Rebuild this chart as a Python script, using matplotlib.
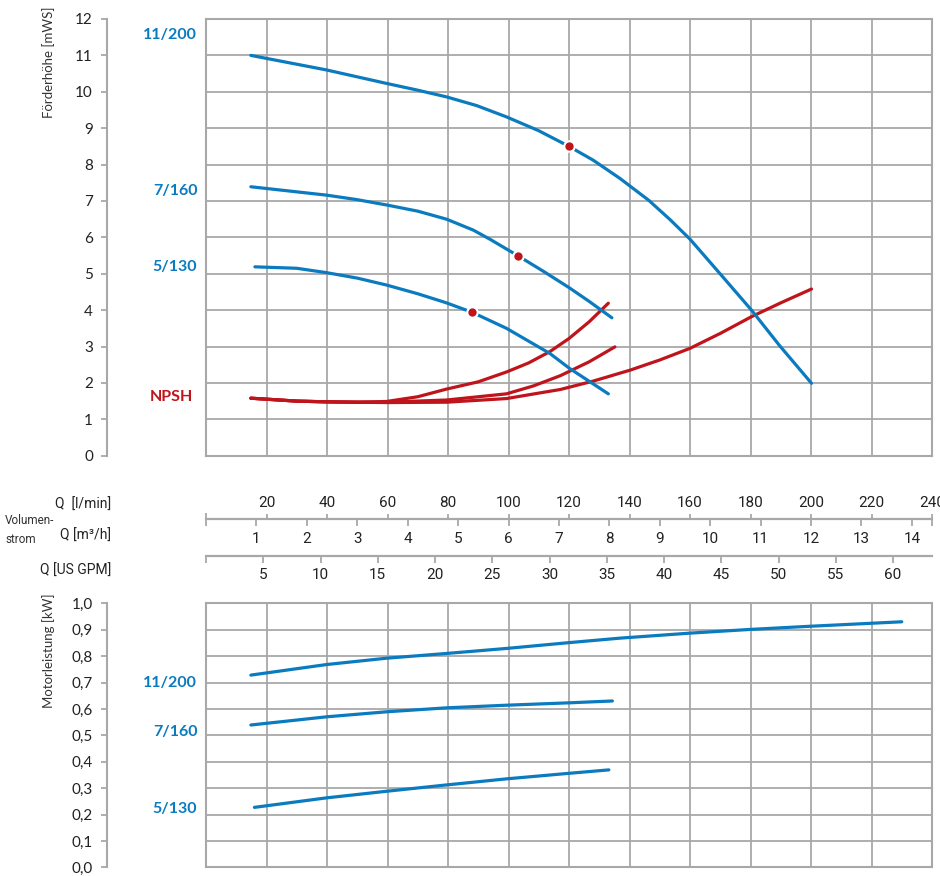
import numpy as np
import matplotlib
matplotlib.use("Agg")
import matplotlib.pyplot as plt

# Förderhöhe (head) curves, x in m³/h, y in mWS
q_200 = [0.89, 2.39, 3.58, 4.18, 4.77, 5.37, 5.96, 6.6, 7.2, 7.68, 8.21, 8.78, 9.21, 9.6, 10.19, 10.82, 11.38, 12.01]
h_200 = [11.0, 10.6, 10.23, 10.05, 9.86, 9.62, 9.31, 8.93, 8.5, 8.12, 7.62, 7.02, 6.48, 5.95, 5.01, 4.0, 3.02, 1.99]

q_160 = [0.89, 2.39, 2.98, 3.58, 4.2, 4.77, 5.30, 5.63, 5.96, 6.18, 6.7, 7.2, 7.6, 8.05]
h_160 = [7.39, 7.16, 7.04, 6.89, 6.72, 6.5, 6.2, 5.95, 5.68, 5.50, 5.06, 4.62, 4.24, 3.79]

q_130 = [0.97, 1.80, 2.39, 3.0, 3.58, 4.2, 4.77, 5.28, 5.96, 6.82, 7.21, 7.98]
h_130 = [5.19, 5.15, 5.03, 4.88, 4.69, 4.45, 4.20, 3.94, 3.5, 2.81, 2.40, 1.70]

# NPSH curves
q_npsh_130 = [0.89, 1.8, 2.39, 3.0, 3.58, 4.2, 4.77, 5.4, 5.96, 6.4, 6.82, 7.2, 7.6, 7.98]
n_npsh_130 = [1.58, 1.50, 1.48, 1.47, 1.49, 1.62, 1.83, 2.03, 2.30, 2.55, 2.86, 3.22, 3.68, 4.19]

q_npsh_160 = [0.89, 1.8, 2.39, 3.0, 3.58, 4.77, 5.96, 6.5, 7.03, 7.6, 8.11]
n_npsh_160 = [1.58, 1.50, 1.48, 1.47, 1.47, 1.53, 1.70, 1.92, 2.20, 2.58, 2.99]

q_npsh_200 = [0.89, 1.8, 2.39, 3.0, 3.58, 4.77, 5.96, 6.6, 7.03, 7.68, 8.41, 9.0, 9.6, 10.2, 10.82, 11.4, 12.01]
n_npsh_200 = [1.58, 1.50, 1.48, 1.47, 1.46, 1.47, 1.57, 1.72, 1.82, 2.05, 2.35, 2.63, 2.95, 3.36, 3.82, 4.2, 4.58]

# operating points (red dots)
dot_q = [7.2, 6.18, 5.28]
dot_h = [8.5, 5.50, 3.94]

# Motorleistung (power) curves, kW
p_q_200 = [0.89, 2.39, 3.58, 4.77, 5.96, 7.2, 8.21, 9.6, 10.79, 11.98, 13.8]
p_200 = [0.728, 0.768, 0.792, 0.81, 0.829, 0.851, 0.868, 0.887, 0.901, 0.913, 0.93]

p_q_160 = [0.89, 2.39, 3.58, 4.77, 5.96, 7.2, 8.06]
p_160 = [0.539, 0.570, 0.589, 0.604, 0.614, 0.623, 0.630]

p_q_130 = [0.96, 2.39, 3.58, 4.77, 5.96, 7.2, 7.99]
p_130 = [0.227, 0.263, 0.288, 0.312, 0.335, 0.356, 0.369]

# scales
head_ticks = list(range(0, 13))
power_ticks = [round(0.1 * i, 1) for i in range(11)]
power_labels = [f"{v:.1f}".replace(".", ",") for v in power_ticks]
lmin_ticks = [20, 40, 60, 80, 100, 120, 140, 160, 180, 200, 220, 240]
m3h_ticks = [1, 2, 3, 4, 5, 6, 7, 8, 9, 10, 11, 12, 13, 14]
gpm_ticks = [5, 10, 15, 20, 25, 30, 35, 40, 45, 50, 55, 60]

Q_MAX = 14.4  # m³/h  (= 240 l/min)
GPM_PER_M3H = 1 / 0.227124

blue = "#0b7bbf"
red = "#c0141c"
gray = "#a8a8a8"
txt = "#222222"

plt.rcParams["font.family"] = ["Lato", "DejaVu Sans"]
narrow_fam = ["Roboto", "DejaVu Sans"]

W, H = 940, 876
fig = plt.figure(figsize=(W / 100, H / 100), dpi=100)


def grid_axes(top_px, bottom_px, yticks, ylim):
    ax = fig.add_axes([206 / W, 1 - bottom_px / H, 726 / W, (bottom_px - top_px) / H])
    ax.set_xlim(0, Q_MAX)
    ax.set_ylim(*ylim)
    ax.set_xticks(np.arange(0, Q_MAX + 0.01, 1.2))
    ax.set_yticks(yticks)
    ax.grid(True, color=gray, linewidth=1.3)
    ax.tick_params(left=False, bottom=False, labelleft=False, labelbottom=False)
    for s in ax.spines.values():
        s.set_color(gray)
        s.set_linewidth(1.5)
    return ax


ax1 = grid_axes(19, 455.7, head_ticks, (0, 12))
ax2 = grid_axes(603.3, 867.3, power_ticks, (0, 1.0))

for ax, ticks, labels in [(ax1, head_ticks, [str(t) for t in head_ticks]),
                          (ax2, power_ticks, power_labels)]:
    sec = ax.secondary_yaxis(-0.1357)
    sec.set_yticks(ticks)
    sec.set_yticklabels(labels)
    sec.spines["left"].set_color(gray)
    sec.spines["left"].set_linewidth(1.5)
    sec.tick_params(length=4.5, width=1.3, color=gray, labelsize=11,
                    labelcolor=txt, pad=6)

# head curves
line_kw = dict(linewidth=2.3, solid_capstyle="round", solid_joinstyle="round")
ax1.plot(q_npsh_200, n_npsh_200, color=red, **line_kw)
ax1.plot(q_npsh_160, n_npsh_160, color=red, **line_kw)
ax1.plot(q_npsh_130, n_npsh_130, color=red, **line_kw)
ax1.plot(q_200, h_200, color=blue, **line_kw)
ax1.plot(q_160, h_160, color=blue, **line_kw)
ax1.plot(q_130, h_130, color=blue, **line_kw)
ax1.plot(dot_q, dot_h, "o", ms=7.5, mfc=red, mec="white", mew=1.5, zorder=5)

# power curves
ax2.plot(p_q_200, p_200, color=blue, **line_kw)
ax2.plot(p_q_160, p_160, color=blue, **line_kw)
ax2.plot(p_q_130, p_130, color=blue, **line_kw)

# curve names
lab_kw = dict(ha="right", va="center", fontsize=11.5, fontweight="bold", clip_on=False)
tr1 = ax1.get_yaxis_transform()
ax1.text(-0.012, 11.56, "11/200", color=blue, transform=tr1, **lab_kw)
ax1.text(-0.012, 7.28, "7/160", color=blue, transform=tr1, **lab_kw)
ax1.text(-0.012, 5.19, "5/130", color=blue, transform=tr1, **lab_kw)
ax1.text(-0.018, 1.62, "NPSH", color=red, transform=tr1, **lab_kw)
tr2 = ax2.get_yaxis_transform()
ax2.text(-0.012, 0.70, "11/200", color=blue, transform=tr2, **lab_kw)
ax2.text(-0.012, 0.514, "7/160", color=blue, transform=tr2, **lab_kw)
ax2.text(-0.012, 0.221, "5/130", color=blue, transform=tr2, **lab_kw)

# axis titles
fig.text(48.5 / W, 1 - 7 / H, "Förderhöhe [mWS]", rotation=90, ha="center",
         va="top", fontsize=9.5, color="#333333")
fig.text(48.5 / W, 1 - 593 / H, "Motorleistung [kW]", rotation=90, ha="center",
         va="top", fontsize=9.5, color="#333333")


# flow scales
def scale_axes(y_px):
    a = fig.add_axes([206 / W, 1 - y_px / H, 726 / W, 1e-5])
    a.set_yticks([])
    for name, s in a.spines.items():
        s.set_visible(name == "bottom")
    a.spines["bottom"].set_color(gray)
    a.spines["bottom"].set_linewidth(1.6)
    a.patch.set_visible(False)
    return a


def narrow_labels(a):
    for lab in a.get_xticklabels():
        lab.set_family(narrow_fam)


axq = scale_axes(519.3)
axq.set_xlim(0, Q_MAX)
axq.set_xticks(m3h_ticks)
axq.set_xticks([0, Q_MAX], minor=True)
axq.tick_params(axis="x", which="major", length=5, width=1.3, color=gray,
                labelsize=11, labelcolor=txt, pad=4)
axq.tick_params(axis="x", which="minor", length=5, width=1.3, color=gray)
narrow_labels(axq)

axl = axq.twiny()
axl.set_xlim(0, 240)
axl.set_xticks(lmin_ticks)
axl.set_xticks([0, 240], minor=True)
axl.tick_params(axis="x", which="major", top=True, bottom=False, labeltop=True,
                labelbottom=False, length=3.5, width=1.3, color=gray,
                labelsize=11, labelcolor=txt, pad=3.5)
axl.tick_params(axis="x", which="minor", top=True, bottom=False, length=4,
                width=1.3, color=gray)
for s in axl.spines.values():
    s.set_visible(False)
narrow_labels(axl)

axg = scale_axes(555.7)
axg.set_xlim(0, Q_MAX * GPM_PER_M3H)
axg.set_xticks(gpm_ticks)
axg.set_xticks([0], minor=True)
axg.tick_params(axis="x", which="major", length=5, width=1.3, color=gray,
                labelsize=11, labelcolor=txt, pad=3.5)
axg.tick_params(axis="x", which="minor", length=5, width=1.3, color=gray)
narrow_labels(axg)

mid_kw = dict(ha="right", va="center", fontsize=10, color=txt, family=narrow_fam)
fig.text(111 / W, 1 - 505 / H, "Q  [l/min]", **mid_kw)
fig.text(111 / W, 1 - 536 / H, "Q [m³/h]", **mid_kw)
fig.text(111 / W, 1 - 571 / H, "Q [US GPM]", **mid_kw)
fig.text(5 / W, 1 - 530 / H, "Volumen-\nstrom", ha="left", va="center",
         fontsize=8.5, color="#333333", linespacing=1.6, family=narrow_fam)

fig.savefig("out.png", dpi=100)
